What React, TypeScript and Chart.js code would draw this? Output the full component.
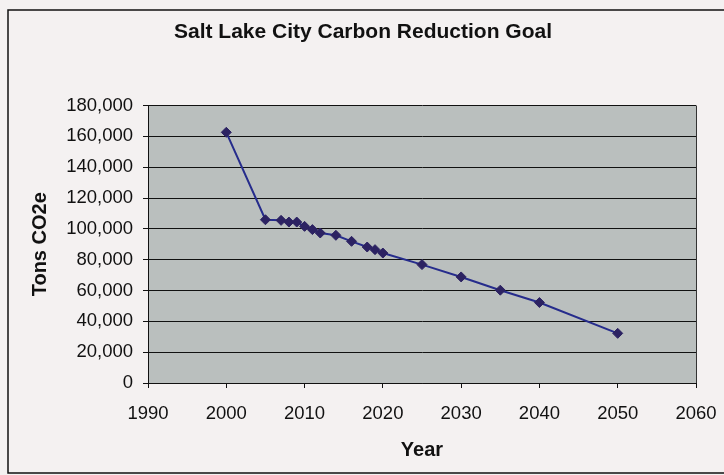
import React, { useEffect, useRef } from "react";
import { Chart, registerables } from "chart.js";

Chart.register(...registerables);

const chartTitle = "Salt Lake City Carbon Reduction Goal";
const xAxisTitle = "Year";
const yAxisTitle = "Tons CO2e";
const years = [2000, 2005, 2007, 2008, 2009, 2010, 2011, 2012, 2014, 2016, 2018, 2019, 2020, 2025, 2030, 2035, 2040, 2050];
const tons = [162600, 105900, 105500, 104400, 104400, 101600, 99500, 97300, 95800, 91900, 88200, 86500, 84300, 76800, 68800, 60200, 52200, 32200];
const xMin = 1990;
const xMax = 2060;
const xStep = 10;
const yMin = 0;
const yMax = 180000;
const yStep = 20000;

const FONT = "'Liberation Sans', Arial, Helvetica, sans-serif";

const framePlugin = {
  id: "framePlugin",
  beforeDraw(chart: any) {
    const { ctx, width, height, chartArea } = chart;
    ctx.save();
    ctx.fillStyle = "#f4f1f1";
    ctx.fillRect(0, 0, width, height);
    ctx.fillStyle = "#babfbe";
    ctx.fillRect(chartArea.left, chartArea.top, chartArea.right - chartArea.left, chartArea.bottom - chartArea.top);
    ctx.strokeStyle = "#111";
    ctx.lineWidth = 1.5;
    ctx.beginPath();
    ctx.moveTo(width, 10);
    ctx.lineTo(8, 10);
    ctx.lineTo(8, 473);
    ctx.lineTo(width, 473);
    ctx.stroke();
    ctx.restore();
  },
  afterDatasetsDraw(chart: any) {
    const { ctx, chartArea } = chart;
    ctx.save();
    ctx.strokeStyle = "#333";
    ctx.lineWidth = 1;
    ctx.beginPath();
    ctx.moveTo(chartArea.right + 0.5, chartArea.top);
    ctx.lineTo(chartArea.right + 0.5, chartArea.bottom);
    ctx.stroke();
    ctx.restore();
  },
};

export default function App() {
  const ref = useRef<HTMLCanvasElement | null>(null);
  useEffect(() => {
    if (!ref.current) return;
    const chart = new Chart(ref.current, {
      type: "scatter",
      data: {
        datasets: [
          {
            data: years.map((y, i) => ({ x: y, y: tons[i] })),
            showLine: true,
            borderColor: "#262c8c",
            borderWidth: 2,
            pointStyle: "rectRot",
            pointRadius: 5,
            pointBackgroundColor: "#2c2262",
            pointBorderColor: "#2c2262",
            pointBorderWidth: 1,
            tension: 0,
          },
        ],
      },
      options: {
        animation: false,
        responsive: false,
        devicePixelRatio: 1,
        layout: { padding: { left: 30, right: 28, top: 0, bottom: 0 } },
        plugins: {
          legend: { display: false },
          tooltip: { enabled: false },
          title: {
            display: true,
            text: chartTitle,
            color: "#111",
            font: { family: FONT, size: 21, weight: "bold", lineHeight: 1.2 },
            padding: { top: 19.4, bottom: 60.9 },
          },
        },
        scales: {
          x: {
            type: "linear",
            min: xMin,
            max: xMax,
            afterFit(scale: any) {
              scale.height = 92;
              scale.paddingRight = 0;
              scale.paddingLeft = 0;
            },
            ticks: {
              stepSize: xStep,
              color: "#111",
              padding: 14.4,
              maxRotation: 0,
              font: { family: FONT, size: 18.5, lineHeight: 1.2 },
              callback: (v: any) => String(v),
            },
            grid: { drawOnChartArea: false, drawTicks: true, tickLength: 5, color: "#111", lineWidth: 1 },
            border: { display: true, color: "#111", width: 1 },
            title: {
              display: true,
              text: xAxisTitle,
              color: "#111",
              font: { family: FONT, size: 20, weight: "bold", lineHeight: 1.2 },
              padding: { top: 0, bottom: 13 },
            },
          },
          y: {
            min: yMin,
            max: yMax,
            afterFit(scale: any) {
              scale.width = 118;
            },
            ticks: {
              stepSize: yStep,
              color: "#111",
              padding: 10,
              font: { family: FONT, size: 18.5, lineHeight: 1.2 },
              callback: (v: any) => Number(v).toLocaleString("en-US"),
            },
            grid: { drawTicks: true, tickLength: 5, color: "#111", lineWidth: 1 },
            border: { display: true, color: "#111", width: 1 },
            title: {
              display: true,
              text: yAxisTitle,
              color: "#111",
              font: { family: FONT, size: 20, weight: "bold", lineHeight: 1 },
              padding: { top: 0, bottom: 0 },
            },
          },
        },
      },
      plugins: [framePlugin],
    });
    return () => chart.destroy();
  }, []);
  return (
    <div style={{ position: "fixed", left: 0, top: 0, width: 724, height: 475 }}>
      <canvas ref={ref} width={724} height={475} style={{ width: 724, height: 475, display: "block" }} />
    </div>
  );
}
